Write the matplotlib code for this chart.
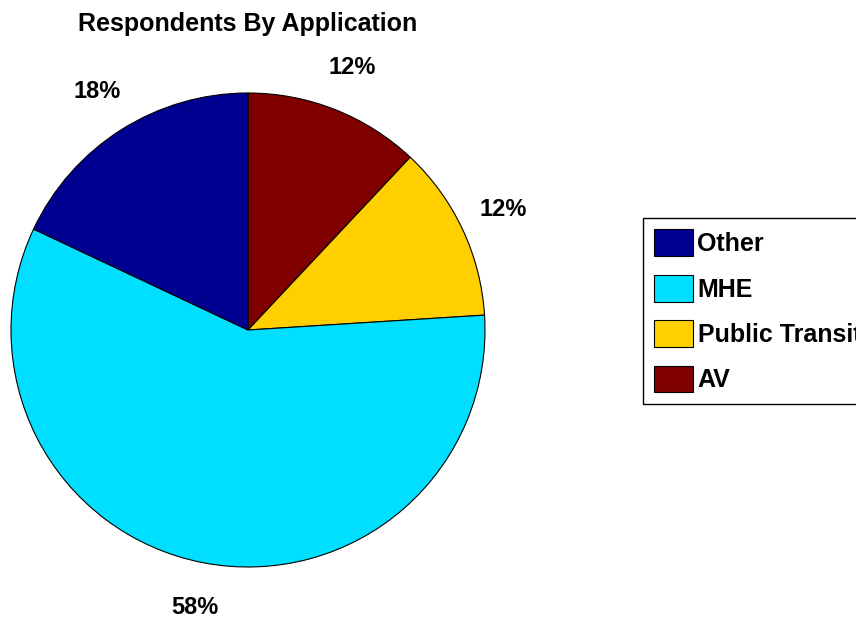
import matplotlib.pyplot as plt

plt.rcParams['font.family'] = ['Liberation Sans', 'DejaVu Sans']
plt.rcParams['font.weight'] = 'bold'

# slices clockwise from 12 o'clock
apps = ['AV', 'Public Transit', 'MHE', 'Other']
shares = [12, 12, 58, 18]
colors = ['#800000', '#FFCF00', '#00DFFF', '#000090']


def draw():
    fig = plt.figure(figsize=(8.56, 6.2), dpi=100)
    # axes box = pie bounding square, in pixels
    ax = fig.add_axes([11 / 856, 53 / 620, 474 / 856, 474 / 620])

    wedges, texts, autotexts = ax.pie(
        shares, colors=colors, startangle=90, counterclock=False,
        autopct='%1.0f%%', pctdistance=1.19, radius=1,
        wedgeprops=dict(edgecolor='black', linewidth=0.8),
        textprops=dict(fontsize=17, fontweight='bold', color='black'))
    for t in autotexts:
        t.set_ha('center')
        t.set_va('center')

    ax.set_xlim(-1, 1)
    ax.set_ylim(-1, 1)
    ax.set_aspect('auto')
    ax.axis('off')

    ax.set_title('Respondents By Application', fontsize=18, fontweight='bold',
                 y=1 + 69 / 474, va='center', pad=0)

    # legend runs off the right edge, as in the original
    leg = fig.legend(wedges[::-1], apps[::-1], loc='upper left',
                     bbox_to_anchor=(643 / 856, 1 - 218 / 620),
                     fontsize=18, frameon=True, fancybox=False,
                     edgecolor='black', framealpha=1,
                     handlelength=1.56, handleheight=1.28,
                     handletextpad=0.17, labelspacing=0.74,
                     borderpad=0.45, borderaxespad=0)
    leg.get_frame().set_linewidth(1.0)

    fig.savefig('out.png', dpi=100)


draw()
